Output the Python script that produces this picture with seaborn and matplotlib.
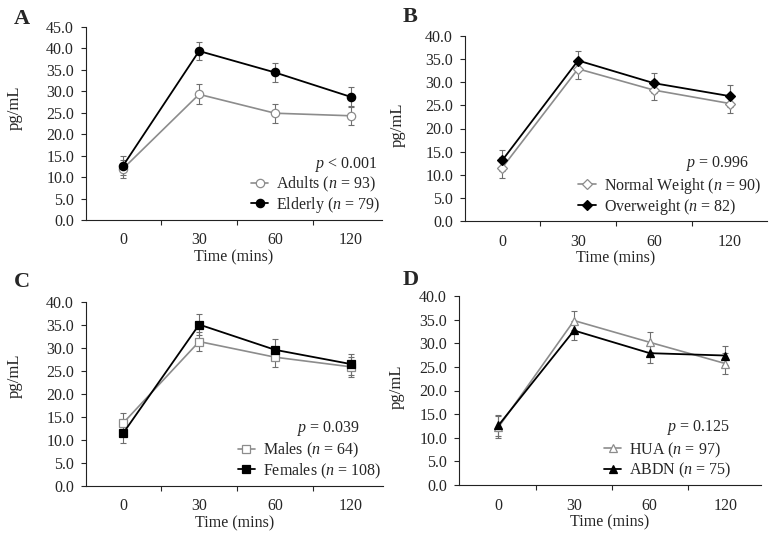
import numpy as np
import pandas as pd
import matplotlib
matplotlib.use("Agg")
import matplotlib.pyplot as plt
from matplotlib.ticker import FixedLocator, FormatStrFormatter
import seaborn as sns

# ---------------------- data ----------------------
times = ["0", "30", "60", "120"]

adults_mean = [12.0, 29.3, 24.9, 24.3]
adults_err = [2.1, 2.3, 2.2, 2.2]
elderly_mean = [12.7, 39.4, 34.4, 28.7]
elderly_err = [2.3, 2.2, 2.2, 2.3]

normal_mean = [11.5, 32.9, 28.3, 25.4]
normal_err = [2.3, 2.2, 2.2, 2.1]
over_mean = [13.1, 34.7, 29.8, 27.0]
over_err = [2.2, 2.1, 2.2, 2.3]

males_mean = [13.7, 31.4, 28.0, 25.9]
males_err = [2.2, 2.1, 2.1, 2.1]
females_mean = [11.5, 35.1, 29.6, 26.5]
females_err = [2.1, 2.2, 2.3, 2.3]

hua_mean = [12.2, 34.8, 30.2, 25.7]
hua_err = [2.3, 2.1, 2.1, 2.2]
abdn_mean = [12.6, 32.7, 27.9, 27.4]
abdn_err = [2.2, 2.1, 2.1, 2.1]

panel_letters = ["A", "B", "C", "D"]
p_texts = [r"$\it{p}$ < 0.001", r"$\it{p}$ = 0.996", r"$\it{p}$ = 0.039", r"$\it{p}$ = 0.125"]
open_labels = [r"Adults ($\it{n}$ = 93)", r"Normal Weight ($\it{n}$ = 90)",
               r"Males ($\it{n}$ = 64)", r"HUA ($\it{n}$ = 97)"]
filled_labels = [r"Elderly ($\it{n}$ = 79)", r"Overweight ($\it{n}$ = 82)",
                 r"Females ($\it{n}$ = 108)", r"ABDN ($\it{n}$ = 75)"]
open_means = [adults_mean, normal_mean, males_mean, hua_mean]
open_errs = [adults_err, normal_err, males_err, hua_err]
filled_means = [elderly_mean, over_mean, females_mean, abdn_mean]
filled_errs = [elderly_err, over_err, females_err, abdn_err]
markers = ["o", "D", "s", "^"]
marker_sizes = [6.0, 5.0, 6.0, 6.0]
y_tops = [45, 40, 40, 40]

# ---------------------- layout (pixels of a 776x536 canvas) ----------------------
W, H = 776, 536
# left, right, y of top tick, y of zero
boxes = [(86, 382, 27, 220), (465, 767, 36, 221), (86, 383, 302, 486), (459, 761, 296, 485)]
xlims = [(-0.49, 3.41), (-0.49, 3.49), (-0.49, 3.42), (-0.52, 3.47)]
p_pos = [(0.986, 0.29), (0.940, 0.31), (0.923, 0.31), (0.897, 0.305)]
leg_pos = [(0.995, 0.026), (0.979, 0.022), (0.995, 0.029), (0.903, 0.026)]
letter_pos = [(14, 19), (403, 17), (14, 282), (403, 280)]
# y label centre: pixels left of the spine, fraction of axes height
ylab_pos = [(63, 0.58), (59, 0.52), (63, 0.60), (54, 0.52)]

GRAY = "#8c8c8c"
ERR = "#6e6e6e"
FS = 11.5

sns.set_style("ticks")
plt.rcParams["font.family"] = ["Liberation Serif", "DejaVu Serif"]
plt.rcParams["mathtext.fontset"] = "custom"
plt.rcParams["mathtext.rm"] = "Liberation Serif"
plt.rcParams["mathtext.it"] = "Liberation Serif:italic"

fig = plt.figure(figsize=(W / 100, H / 100), dpi=100)

for i in range(4):
    l, r, t, b = boxes[i]
    ax = fig.add_axes([l / W, 1 - b / H, (r - l) / W, (b - t) / H])
    pos = np.arange(len(times))

    df_open = pd.DataFrame({"pos": pos, "value": open_means[i]})
    df_fill = pd.DataFrame({"pos": pos, "value": filled_means[i]})

    ax.errorbar(pos, open_means[i], yerr=open_errs[i], fmt="none", ecolor=ERR,
                elinewidth=0.8, capsize=2, capthick=0.8, zorder=1)
    ax.errorbar(pos, filled_means[i], yerr=filled_errs[i], fmt="none", ecolor=ERR,
                elinewidth=0.8, capsize=2, capthick=0.8, zorder=1)

    sns.lineplot(data=df_open, x="pos", y="value", ax=ax, color=GRAY, lw=1.2,
                 marker=markers[i], markersize=marker_sizes[i], markerfacecolor="white",
                 markeredgecolor=GRAY, markeredgewidth=0.9, label=open_labels[i], zorder=3)
    sns.lineplot(data=df_fill, x="pos", y="value", ax=ax, color="black", lw=1.3,
                 marker=markers[i], markersize=marker_sizes[i], markerfacecolor="black",
                 markeredgecolor="black", markeredgewidth=0.9, label=filled_labels[i], zorder=4)

    ax.set_xlim(*xlims[i])
    ax.set_ylim(0, y_tops[i])
    ax.set_yticks(np.arange(0, y_tops[i] + 0.1, 5))
    ax.yaxis.set_major_formatter(FormatStrFormatter("%.1f"))
    ax.set_xticks(pos)
    ax.set_xticklabels(times)
    ax.xaxis.set_minor_locator(FixedLocator([0.5, 1.5, 2.5]))
    ax.tick_params(axis="x", which="major", length=0, pad=9, labelsize=FS)
    ax.tick_params(axis="x", which="minor", length=3.5, width=0.8, direction="out")
    ax.tick_params(axis="y", length=3.6, width=0.8, labelsize=FS, pad=5)
    for s in ["top", "right"]:
        ax.spines[s].set_visible(False)
    for s in ["left", "bottom"]:
        ax.spines[s].set_linewidth(0.8)
        ax.spines[s].set_color("#222222")

    ax.set_xlabel("Time (mins)", fontsize=FS, labelpad=0.5)
    ax.set_ylabel("pg/mL", fontsize=12)
    ax.yaxis.set_label_coords(-ylab_pos[i][0] / (r - l), ylab_pos[i][1])

    ax.text(p_pos[i][0], p_pos[i][1], p_texts[i], transform=ax.transAxes,
            ha="right", va="center", fontsize=FS)
    ax.legend(loc="lower right", bbox_to_anchor=leg_pos[i], frameon=False, fontsize=FS,
              handlelength=1.1, handletextpad=0.5, labelspacing=0.08,
              borderpad=0, borderaxespad=0)

    lx, ly = letter_pos[i]
    fig.text(lx / W, 1 - ly / H, panel_letters[i], fontsize=16, fontweight="bold",
             ha="left", va="center")

fig.savefig("out.png", dpi=100)
